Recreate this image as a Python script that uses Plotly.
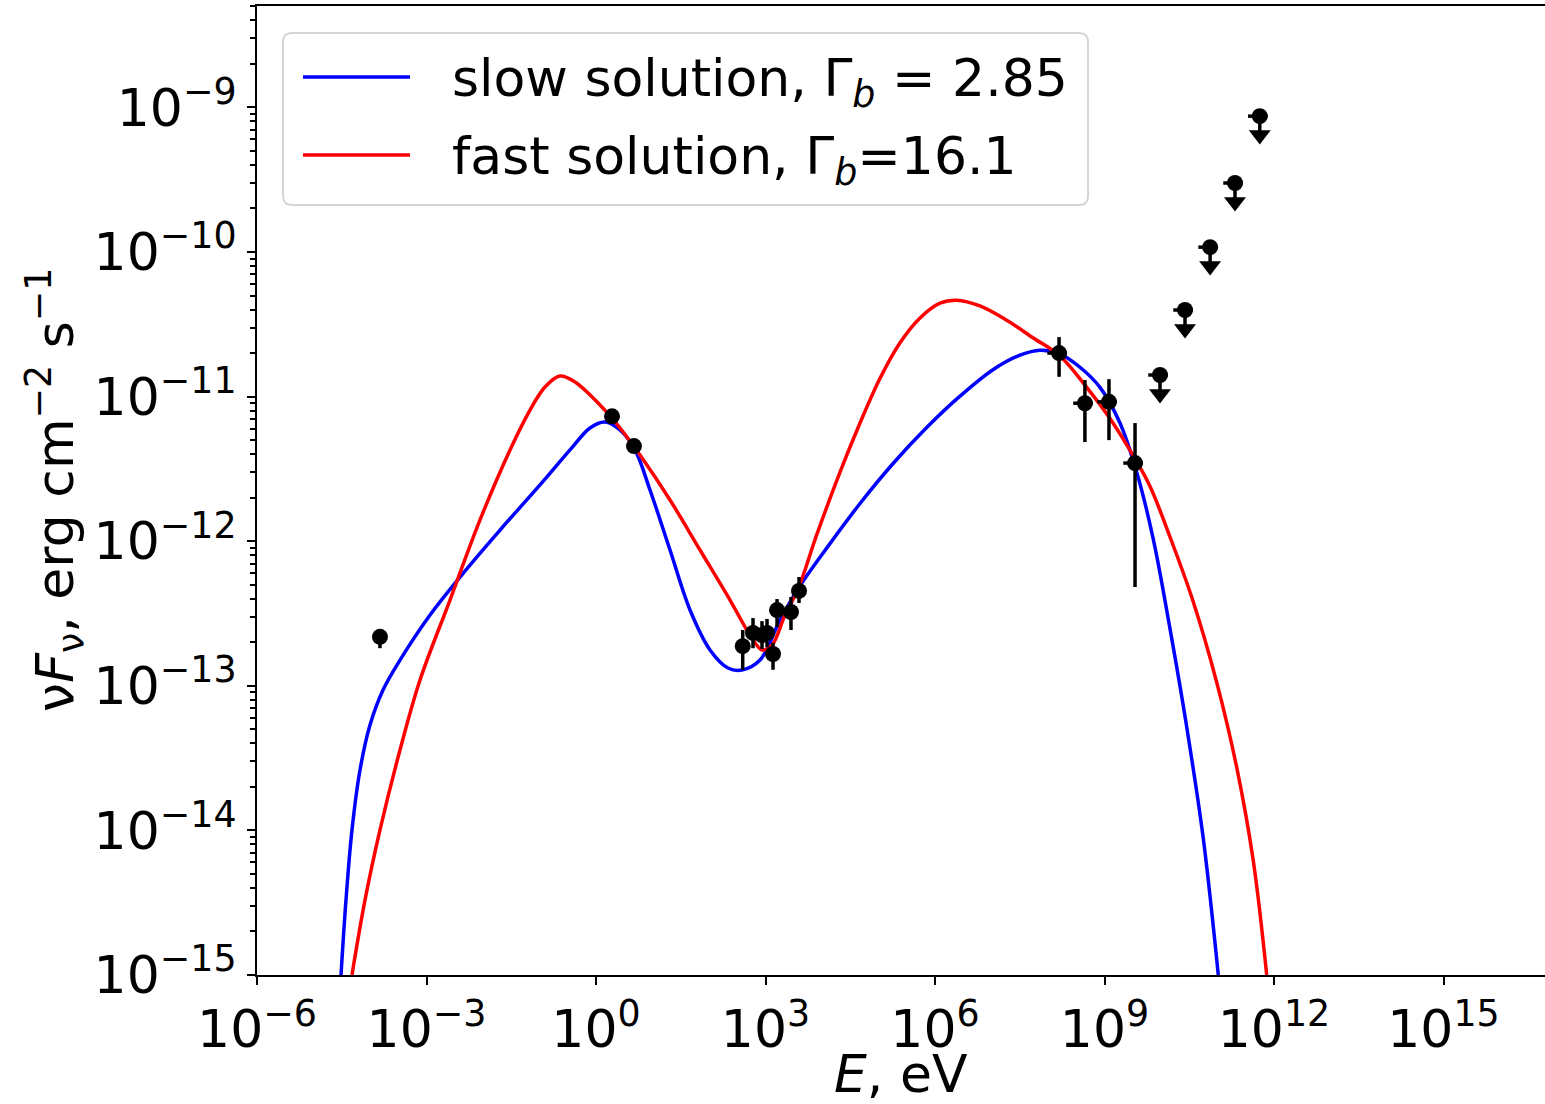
import plotly.graph_objects as go

# ---------------- model curves (log10 E [eV], log10 nuF_nu [erg cm^-2 s^-1]) ----------------
slow_logE = [-4.513, -4.425, -4.319, -4.177, -4.0, -3.770, -3.469, -2.938, -2.407, -1.699,
             -0.991, -0.460, -0.106, 0.159, 0.425, 0.690, 0.956, 1.310, 1.664, 2.018,
             2.336, 2.584, 2.903, 3.257, 3.581, 4.083, 4.673, 5.262, 5.853, 6.442,
             7.032, 7.504, 7.858, 8.212, 8.566, 8.920, 9.274, 9.570, 9.864, 10.159,
             10.455, 10.749, 11.014]
slow_logF = [-15.0, -14.481, -13.997, -13.582, -13.271, -13.029, -12.822, -12.510, -12.248, -11.923,
             -11.611, -11.369, -11.217, -11.176, -11.231, -11.369, -11.646, -12.061, -12.476, -12.752,
             -12.877, -12.891, -12.822, -12.545, -12.326, -12.048, -11.739, -11.461, -11.214, -10.997,
             -10.812, -10.713, -10.679, -10.704, -10.797, -10.936, -11.183, -11.523, -11.987, -12.605,
             -13.285, -14.058, -15.0]

fast_logE = [-4.319, -4.088, -3.823, -3.469, -3.115, -2.584, -2.053, -1.522, -1.168, -0.903,
             -0.637, -0.372, 0.071, 0.425, 0.779, 1.310, 1.841, 2.372, 2.726, 2.938,
             3.115, 3.345, 3.581, 3.906, 4.319, 4.673, 5.027, 5.381, 5.735, 6.088,
             6.384, 6.796, 7.269, 7.740, 8.212, 8.685, 9.097, 9.540, 9.805, 10.159,
             10.572, 10.986, 11.340, 11.634, 11.871]
fast_logF = [-15.0, -14.481, -13.997, -13.444, -12.960, -12.407, -11.853, -11.369, -11.093, -10.934,
             -10.858, -10.899, -11.058, -11.217, -11.404, -11.715, -12.061, -12.407, -12.649, -12.752,
             -12.718, -12.510, -12.326, -11.956, -11.523, -11.183, -10.873, -10.627, -10.456, -10.354,
             -10.333, -10.373, -10.472, -10.595, -10.719, -10.936, -11.152, -11.430, -11.620, -11.970,
             -12.420, -12.976, -13.564, -14.212, -15.0]

# ---------------- observed data ----------------
radio_E = [1.5e-4]
radio_F = [2.18e-13]
radio_lo = [1.82e-13]
radio_hi = [2.45e-13]

opt_E = [1.92, 4.7]
opt_F = [7.3e-12, 4.55e-12]

xray_E = [395, 601, 867, 1064, 1358, 1600, 2825, 3920]
xray_F = [1.88e-13, 2.32e-13, 2.24e-13, 2.32e-13, 1.66e-13, 3.34e-13, 3.24e-13, 4.53e-13]
xray_lo = [1.29e-13, 1.82e-13, 1.80e-13, 1.85e-13, 1.29e-13, 2.55e-13, 2.43e-13, 3.74e-13]
xray_hi = [2.43e-13, 2.94e-13, 2.80e-13, 2.90e-13, 1.98e-13, 3.98e-13, 4.11e-13, 5.65e-13]

gev_E = [1.57e8, 4.5e8, 1.2e9, 3.47e9]
gev_F = [2.0e-11, 9.0e-12, 9.2e-12, 3.47e-12]
gev_lo = [1.37e-11, 4.85e-12, 5.0e-12, 4.82e-13]
gev_hi = [2.58e-11, 1.30e-11, 1.32e-11, 6.56e-12]

ul_E = [9.6e9, 2.66e10, 7.4e10, 2.04e11, 5.6e11]
ul_F = [1.41e-11, 3.97e-11, 1.08e-10, 3.0e-10, 8.7e-10]

legend_labels = ["slow solution, \u0393<sub><i>b</i></sub> = 2.85",
                 "fast solution, \u0393<sub><i>b</i></sub>=16.1"]

x_tick_exp = [-6, -3, 0, 3, 6, 9, 12, 15]
y_tick_exp = [-15, -14, -13, -12, -11, -10, -9]

# ---------------- figure ----------------
FONT = "DejaVu Sans"
FS = 52
W, H = 1545, 1104
ML, MR, MT, MB = 257, 0, 6, 129
PW, PH = W - ML - MR, H - MT - MB


def px_x(px):
    return (px - ML) / PW


def px_y(py):
    return (H - MB - py) / PH


fig = go.Figure()

fig.add_trace(go.Scatter(x=[10 ** v for v in slow_logE], y=[10 ** v for v in slow_logF],
                         mode="lines", line=dict(color="#0000ff", width=3.5, shape="spline", smoothing=1.0),
                         showlegend=False, hoverinfo="skip"))
fig.add_trace(go.Scatter(x=[10 ** v for v in fast_logE], y=[10 ** v for v in fast_logF],
                         mode="lines", line=dict(color="#ff0000", width=3.5, shape="spline", smoothing=1.0),
                         showlegend=False, hoverinfo="skip"))

marker = dict(color="black", size=16, symbol="circle")
ERR_T = 3.5


def err_trace(E, F, lo, hi, xerr=None):
    ex = None
    if xerr:
        ex = dict(type="percent", value=xerr, color="black", thickness=ERR_T, width=0)
    return go.Scatter(x=E, y=F, mode="markers", marker=marker,
                      error_y=dict(type="data", symmetric=False,
                                   array=[h - f for h, f in zip(hi, F)],
                                   arrayminus=[f - l for f, l in zip(F, lo)],
                                   color="black", thickness=ERR_T, width=0),
                      error_x=ex, showlegend=False)


fig.add_trace(err_trace(radio_E, radio_F, radio_lo, radio_hi))
fig.add_trace(go.Scatter(x=opt_E, y=opt_F, mode="markers", marker=marker, showlegend=False))
fig.add_trace(err_trace(xray_E, xray_F, xray_lo, xray_hi))
fig.add_trace(err_trace(gev_E, gev_F, gev_lo, gev_hi, xerr=38))

# upper limits: dot + short bar + downward arrow head
ARROW = 0.74
fig.add_trace(go.Scatter(x=ul_E, y=[f * ARROW for f in ul_F], mode="markers",
                         marker=dict(color="black", size=19, symbol="triangle-down"),
                         showlegend=False))
fig.add_trace(go.Scatter(x=ul_E, y=ul_F, mode="markers", marker=marker,
                         error_y=dict(type="data", symmetric=False, array=[0] * len(ul_F),
                                      arrayminus=[f * (1 - ARROW) for f in ul_F],
                                      color="black", thickness=ERR_T, width=0),
                         error_x=dict(type="percent", value=38, color="black", thickness=ERR_T, width=0),
                         showlegend=False))

# ---------------- axes ----------------
minor_y = [k * 10.0 ** n for n in range(-15, -8) for k in range(2, 10)]

fig.update_xaxes(type="log", range=[-6, -6 + PW / 56.5],
                 tickmode="array", tickvals=[10.0 ** e for e in x_tick_exp],
                 ticktext=["10<sup>\u2212%d</sup>" % (-e) if e < 0 else "10<sup>%d</sup>" % e for e in x_tick_exp],
                 ticks="outside", ticklen=8, tickwidth=2, tickcolor="black",
                 showline=True, linecolor="black", linewidth=2, mirror=True,
                 showgrid=False, zeroline=False,
                 tickfont=dict(family=FONT, size=FS, color="black"))
fig.update_yaxes(type="log", range=[-15, -15 + PH / 144.6],
                 tickmode="array", tickvals=[10.0 ** e for e in y_tick_exp],
                 ticktext=["10<sup>\u2212%d</sup>" % (-e) for e in y_tick_exp],
                 ticks="outside", ticklen=8, tickwidth=2, tickcolor="black",
                 minor=dict(tickmode="array", tickvals=minor_y, ticks="outside", ticklen=5,
                            tickwidth=1.5, tickcolor="black", showgrid=False),
                 showline=True, linecolor="black", linewidth=2, mirror=False,
                 showgrid=False, zeroline=False,
                 tickfont=dict(family=FONT, size=FS, color="black"))

# ---------------- legend (drawn box) ----------------
x0, x1 = px_x(283), px_x(1088)
y1, y0 = px_y(33), px_y(205)
rx, ry = 9 / PW, 9 / PH
path = (f"M {x0 + rx},{y0} L {x1 - rx},{y0} Q {x1},{y0} {x1},{y0 + ry} "
        f"L {x1},{y1 - ry} Q {x1},{y1} {x1 - rx},{y1} L {x0 + rx},{y1} "
        f"Q {x0},{y1} {x0},{y1 - ry} L {x0},{y0 + ry} Q {x0},{y0} {x0 + rx},{y0} Z")
shapes = [dict(type="path", xref="paper", yref="paper", path=path,
               fillcolor="rgba(255,255,255,0.8)", line=dict(color="#d5d5d5", width=2), layer="above")]
annotations = []
for i, (lab, col) in enumerate(zip(legend_labels, ["#0000ff", "#ff0000"])):
    yy = px_y(77 + 78 * i)
    shapes.append(dict(type="line", xref="paper", yref="paper", x0=px_x(303), x1=px_x(410),
                       y0=yy, y1=yy, line=dict(color=col, width=3.5), layer="above"))
    annotations.append(dict(xref="paper", yref="paper", x=px_x(450), y=px_y(82 + 78 * i),
                            xanchor="left", yanchor="middle", text=lab, showarrow=False,
                            font=dict(family=FONT, size=FS, color="black")))

# axis titles
annotations.append(dict(xref="paper", yref="paper", x=0.5, y=0, yshift=-(1074 - 975),
                        xanchor="center", yanchor="middle", showarrow=False,
                        text="<i>E</i>, eV", font=dict(family=FONT, size=FS, color="black")))
annotations.append(dict(xref="paper", yref="paper", x=0, xshift=-(257 - 55), y=px_y(490),
                        xanchor="center", yanchor="middle", showarrow=False, textangle=-90,
                        text="\u03bd<i>F</i><sub>\u03bd</sub>, erg cm<sup>\u22122</sup> s<sup>\u22121</sup>",
                        font=dict(family=FONT, size=FS, color="black")))

fig.update_layout(width=W, height=H, margin=dict(l=ML, r=MR, t=MT, b=MB, autoexpand=False),
                  paper_bgcolor="white", plot_bgcolor="white",
                  shapes=shapes, annotations=annotations, showlegend=False,
                  font=dict(family=FONT, color="black"))

fig.write_html("out.html")
